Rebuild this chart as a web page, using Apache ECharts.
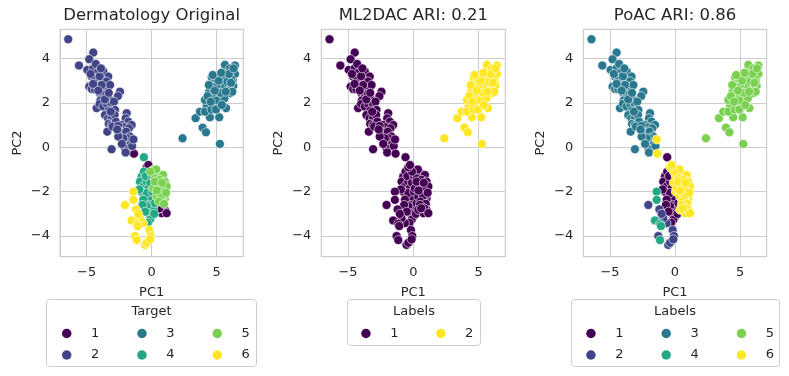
<!DOCTYPE html>
<html>
<head>
<meta charset="utf-8">
<script src="https://cdn.jsdelivr.net/npm/echarts@6/dist/echarts.min.js"></script>
<style>
  html, body { margin: 0; padding: 0; background: #fff; }
  #myChart { width: 789px; height: 376px; }
</style>
</head>
<body>
<div id="myChart"></div>
<script>
// PCA coordinates, grouped by (target, ML2DAC, PoAC) label
var upperLeft = [ // target 2, ML2DAC 1, PoAC 3
    [-6.42, 4.86], [-4.49, 4.26], [-4.8, 3.96], [-5.59, 3.68], [-4.95, 3.48], [-4.49, 3.56], [-4.2, 3.35],
    [-3.72, 3.41], [-3.34, 3.18], [-4.62, 3.18], [-4.35, 3.1], [-4.03, 2.96], [-3.75, 3.0], [-3.46, 2.96],
    [-4.8, 2.73], [-4.6, 2.62], [-4.36, 2.61], [-4.15, 2.75], [-3.98, 2.43], [-3.75, 2.6], [-3.46, 2.66],
    [-3.2, 2.8], [-2.44, 2.5], [-2.6, 2.3], [-3.72, 2.28], [-3.5, 2.4], [-3.21, 2.13], [-3.95, 2.1],
    [-4.23, 1.76], [-4.0, 1.95], [-3.72, 1.83], [-3.45, 1.95], [-3.08, 1.91], [-2.9, 2.05], [-2.82, 1.68],
    [-3.3, 1.65], [-3.59, 1.45], [-3.35, 1.3], [-3.08, 1.31], [-2.85, 1.45], [-3.3, 1.05], [-3.08, 1.0],
    [-3.41, 0.7], [-2.75, 1.15], [-1.92, 1.53], [-2.0, 1.3], [-1.8, 1.15], [-2.31, 1.0], [-2.1, 0.9],
    [-1.54, 1.0], [-1.75, 0.85], [-3.0, 0.93], [-2.57, 0.96], [-2.44, 0.7], [-2.2, 0.65], [-1.95, 0.7],
    [-1.67, 0.48], [-1.9, 0.4], [-2.18, 0.4], [-2.57, 0.48], [-1.67, 0.1], [-2.05, -0.05], [-2.0, -0.24],
    [-3.08, -0.09], [-1.5, 0.05], [-2.3, 0.15], [-4.3, 3.75], [-4.0, 3.2], [-3.85, 2.8], [-3.6, 2.15],
    [-3.15, 1.6], [-2.65, 0.8], [-4.7, 3.3], [-3.9, 3.55], [-4.5, 2.85], [-4.1, 2.55], [-3.3, 2.45]
];
var upperTail = [[-1.4, 0.35]]; // target 2, ML2DAC 1, PoAC 6
var tailPurple = [[-1.36, -0.29]]; // target 1, ML2DAC 1, PoAC 6
var rightSide = [ // target 3, ML2DAC 2, PoAC 5
    [2.38, 0.4], [5.25, 0.15], [3.92, 0.88], [4.18, 0.67], [3.38, 1.31], [3.72, 1.6], [4.48, 1.35],
    [5.2, 1.35], [4.23, 1.86], [4.87, 1.98], [5.72, 1.76], [4.1, 2.13], [4.74, 2.28], [5.38, 2.28],
    [6.02, 2.43], [4.43, 2.5], [5.13, 2.58], [5.38, 2.6], [6.28, 2.76], [4.74, 2.96], [5.25, 3.18],
    [4.62, 3.15], [6.23, 3.03], [6.41, 3.3], [5.77, 3.4], [5.64, 3.71], [6.41, 3.68], [6.02, 3.55],
    [5.44, 2.96], [4.1, 1.6], [4.6, 1.7], [5.0, 2.1], [5.6, 2.2], [5.9, 2.7], [5.5, 2.75], [5.0, 2.8],
    [4.9, 3.1], [5.55, 3.2], [6.1, 3.1], [5.8, 2.95], [4.4, 2.8], [4.3, 2.3], [5.3, 2.45], [6.2, 2.5],
    [5.15, 3.0], [4.85, 2.55], [5.95, 3.3], [6.3, 3.55], [5.7, 2.5], [4.55, 2.05], [4.95, 1.7],
    [5.4, 1.9], [6.1, 2.9], [4.7, 3.25], [5.35, 3.35]
];
var lowerTeal = [ // target 4, ML2DAC 1, PoAC 1
    [-0.6, -0.45], [-0.77, -1.32], [-0.9, -1.55], [-0.65, -1.77], [-0.38, -1.55], [-0.26, -1.85],
    [-0.51, -2.15], [-0.13, -2.3], [-0.26, -2.6], [-0.13, -2.9], [0.0, -3.13], [0.12, -2.75],
    [0.25, -2.52], [-0.6, -1.1], [-0.45, -1.3], [-0.8, -2.0], [-0.38, -2.06], [-0.64, -2.36],
    [-0.38, -2.66], [-0.26, -2.97], [-0.13, -3.27], [-0.7, -2.6], [-0.5, -2.9], [-0.3, -3.4],
    [0.2, -3.0], [-0.95, -1.9]
];
var lowerTealB = [[-0.1, -1.6], [0.05, -2.0], [0.05, -1.3]]; // target 4, ML2DAC 1, PoAC 6
var lowerGreen = [ // target 5, ML2DAC 1, PoAC 6
    [0.12, -1.02], [0.51, -1.17], [0.89, -1.25], [0.25, -1.4], [0.64, -1.47], [1.02, -1.55],
    [0.51, -1.77], [0.12, -1.85], [0.89, -1.92], [0.64, -2.15], [1.02, -2.3], [0.38, -2.22],
    [0.77, -2.37], [0.25, -1.55], [1.15, -1.77], [0.73, -1.9], [1.02, -2.14], [0.73, -2.2],
    [0.4, -1.95], [0.8, -1.6], [0.35, -1.0], [1.1, -2.05], [0.55, -2.45], [-0.1, -1.1], [0.95, -2.55]
];
var lowerPurple = [ // target 1, ML2DAC 1, PoAC 6
    [-0.38, -0.9], [-0.25, -0.8], [0.51, -2.6], [0.77, -2.97], [1.02, -2.82], [0.38, -2.82],
    [0.84, -2.75], [1.15, -2.97], [0.6, -2.75]
];
var lowerYellowA = [ // target 6, ML2DAC 1, PoAC 2
    [-2.05, -2.6], [-1.2, -2.8], [-1.28, -4.0], [-0.52, -4.4], [-0.38, -4.3], [-0.18, -3.73],
    [-0.08, -4.0], [-0.13, -4.15], [-0.65, -3.42], [-0.9, -3.2], [-1.03, -3.0]
];
var lowerYellowB = [ // target 6, ML2DAC 1, PoAC 4
    [-1.41, -2.0], [-1.41, -2.37], [-1.54, -3.3], [-1.15, -3.45], [-1.08, -3.55], [-1.15, -4.18]
];

var groups = [
    { pts: upperLeft, target: '2', ml2dac: '1', poac: '3' },
    { pts: upperTail, target: '2', ml2dac: '1', poac: '6' },
    { pts: tailPurple, target: '1', ml2dac: '1', poac: '6' },
    { pts: rightSide, target: '3', ml2dac: '2', poac: '5' },
    { pts: lowerTeal, target: '4', ml2dac: '1', poac: '1' },
    { pts: lowerTealB, target: '4', ml2dac: '1', poac: '6' },
    { pts: lowerGreen, target: '5', ml2dac: '1', poac: '6' },
    { pts: lowerPurple, target: '1', ml2dac: '1', poac: '6' },
    { pts: lowerYellowA, target: '6', ml2dac: '1', poac: '2' },
    { pts: lowerYellowB, target: '6', ml2dac: '1', poac: '4' }
];

var titles = ['Dermatology Original', 'ML2DAC ARI: 0.21', 'PoAC ARI: 0.86'];
var legendTitles = ['Target', 'Labels', 'Labels'];
var sixLabels = ['1', '2', '3', '4', '5', '6'];
var twoLabels = ['1', '2'];
var sixColors = ['#440154', '#414487', '#2a788e', '#22a884', '#7ad151', '#fde725'];
var twoColors = ['#440154', '#fde725'];

var txt = '#262626';
var gridLeft = [60, 321.3, 583.3];
var gridWidth = [183.3, 184, 183.4];

function fmt(step) {
    return function (v) {
        if (Math.abs(v / step - Math.round(v / step)) > 1e-6) return '';
        return v < 0 ? '\u2212' + (-v) : String(v);
    };
}

function makeSeries(key, prefix, labels, colors, idx) {
    return labels.map(function (lab, i) {
        var data = [];
        groups.forEach(function (g) {
            if (g[key] === lab) data = data.concat(g.pts);
        });
        return {
            name: prefix + lab,
            type: 'scatter',
            xAxisIndex: idx,
            yAxisIndex: idx,
            symbolSize: 9,
            itemStyle: { color: colors[i], borderColor: '#fff', borderWidth: 0.6, opacity: 1 },
            emphasis: { disabled: true },
            data: data
        };
    });
}

function legendRow(names, left, top, gap) {
    return {
        data: names,
        left: left,
        top: top,
        padding: 0,
        icon: 'circle',
        itemWidth: 9.5,
        itemHeight: 9.5,
        itemGap: gap,
        selectedMode: false,
        itemStyle: { borderWidth: 0 },
        formatter: function (n) { return n.slice(1); },
        textStyle: { fontSize: 13, color: txt, fontFamily: 'DejaVu Sans', lineHeight: 14, padding: [0, 0, 0, 14.45] }
    };
}

var dom = document.getElementById('myChart');
var myChart = echarts.init(dom);

var option = {
    animation: false,
    textStyle: { fontFamily: 'DejaVu Sans' },
    title: titles.map(function (t, i) {
        return {
            text: t,
            left: gridLeft[i] + gridWidth[i] / 2,
            textAlign: 'center',
            top: 7,
            padding: 0,
            textStyle: { fontSize: 16.5, fontWeight: 'normal', color: txt, fontFamily: 'DejaVu Sans' }
        };
    }),
    grid: gridLeft.map(function (l, i) {
        return { left: l, width: gridWidth[i], top: 29.3, height: 227.4, show: true, borderColor: '#cccccc', borderWidth: 1, backgroundColor: '#fff' };
    }),
    xAxis: gridLeft.map(function (l, i) {
        return {
            gridIndex: i,
            type: 'value',
            min: -7.05,
            max: 7.05,
            splitNumber: 3,
            axisLine: { show: false },
            axisTick: { show: false },
            splitLine: { show: true, lineStyle: { color: '#cccccc', width: 1 } },
            axisLabel: { color: txt, fontSize: 13, margin: 9, formatter: fmt(5) },
            name: 'PC1',
            nameLocation: 'middle',
            nameGap: 29,
            nameTextStyle: { color: txt, fontSize: 13 }
        };
    }),
    yAxis: gridLeft.map(function (l, i) {
        return {
            gridIndex: i,
            type: 'value',
            min: -4.93,
            max: 5.31,
            splitNumber: 5,
            axisLine: { show: false },
            axisTick: { show: false },
            splitLine: { show: true, lineStyle: { color: '#cccccc', width: 1 } },
            axisLabel: { color: txt, fontSize: 13, margin: 10, formatter: fmt(2) },
            name: 'PC2',
            nameLocation: 'middle',
            nameGap: 36,
            nameTextStyle: { color: txt, fontSize: 13 }
        };
    }),
    legend: [
        legendRow(['T1', 'T3', 'T5'], 61.95, 326.5, 38.05),
        legendRow(['T2', 'T4', 'T6'], 61.95, 348, 38.05),
        legendRow(['M1', 'M2'], 361.2, 326.5, 37.75),
        legendRow(['P1', 'P3', 'P5'], 586.2, 326.5, 38.05),
        legendRow(['P2', 'P4', 'P6'], 586.2, 348, 38.05)
    ],
    graphic: [
        { type: 'rect', shape: { x: 46.5, y: 299.5, width: 210, height: 67, r: 3 }, style: { fill: '#fff', stroke: '#cccccc', lineWidth: 1 } },
        { type: 'rect', shape: { x: 347.5, y: 299.5, width: 133, height: 46, r: 3 }, style: { fill: '#fff', stroke: '#cccccc', lineWidth: 1 } },
        { type: 'rect', shape: { x: 571.5, y: 299.5, width: 208, height: 67, r: 3 }, style: { fill: '#fff', stroke: '#cccccc', lineWidth: 1 } },
        { type: 'text', x: 151.5, y: 311.5, style: { text: legendTitles[0], fill: txt, font: '13px "DejaVu Sans"', textAlign: 'center', textVerticalAlign: 'middle' } },
        { type: 'text', x: 414, y: 311.5, style: { text: legendTitles[1], fill: txt, font: '13px "DejaVu Sans"', textAlign: 'center', textVerticalAlign: 'middle' } },
        { type: 'text', x: 675, y: 311.5, style: { text: legendTitles[2], fill: txt, font: '13px "DejaVu Sans"', textAlign: 'center', textVerticalAlign: 'middle' } }
    ],
    series: [].concat(
        makeSeries('target', 'T', sixLabels, sixColors, 0),
        makeSeries('ml2dac', 'M', twoLabels, twoColors, 1),
        makeSeries('poac', 'P', sixLabels, sixColors, 2)
    )
};
myChart.setOption(option, true);
</script>
</body>
</html>
